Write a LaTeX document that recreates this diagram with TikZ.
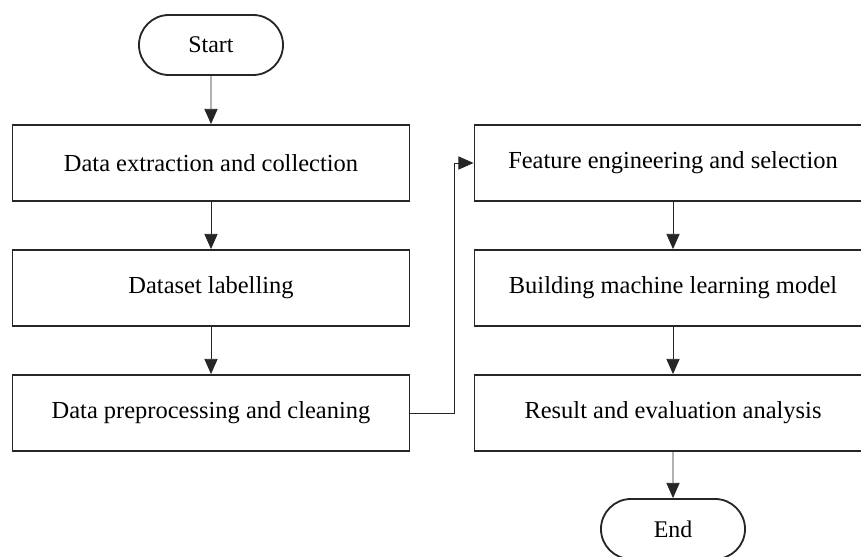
\documentclass[tikz,border=0pt]{standalone}
\usepackage{fontspec}
\setmainfont{Liberation Serif}
\usetikzlibrary{arrows.meta,shapes.misc}

\tikzset{
  stepbox/.style={draw=black!85,line width=1.3pt,minimum width=9.925cm,
    minimum height=1.9cm,inner sep=0pt,font=\fontsize{17.4}{20}\selectfont},
  terminal/.style={draw=black!85,line width=1.3pt,rounded rectangle,
    minimum width=3.6cm,minimum height=1.5cm,inner sep=0pt,
    font=\fontsize{17}{20}\selectfont},
  flow/.style={black!85,line width=0.6pt,-{Triangle[length=3.8mm,width=3.3mm]}}
}

\begin{document}
\begin{tikzpicture}[x=0.025cm,y=-0.025cm]
  \useasboundingbox (0,0) rectangle (861,557);
  \clip (0,0) rectangle (861,557);
  % left column
  \node[terminal] (start) at (211,45) {Start};
  \node[stepbox] (extract) at (211,163) {Data extraction and collection};
  \node[stepbox] (label)   at (211,288) {Dataset labelling};
  \node[stepbox] (clean)   at (211,413) {Data preprocessing and cleaning};
  % right column
  \node[stepbox] (feature) at (673,163) {Feature engineering and selection};
  \node[stepbox] (model)   at (673,288) {Building machine learning model};
  \node[stepbox] (result)  at (673,413) {Result and evaluation analysis};
  \node[terminal] (end)    at (673,529) {End};

  \draw[flow] (start) -- (extract);
  \draw[flow] (extract) -- (label);
  \draw[flow] (label) -- (clean);
  \draw[flow] (clean.east) -- ++(44,0) |- (feature.west);
  \draw[flow] (feature) -- (model);
  \draw[flow] (model) -- (result);
  \draw[flow] (result) -- (end);
\end{tikzpicture}
\end{document}
